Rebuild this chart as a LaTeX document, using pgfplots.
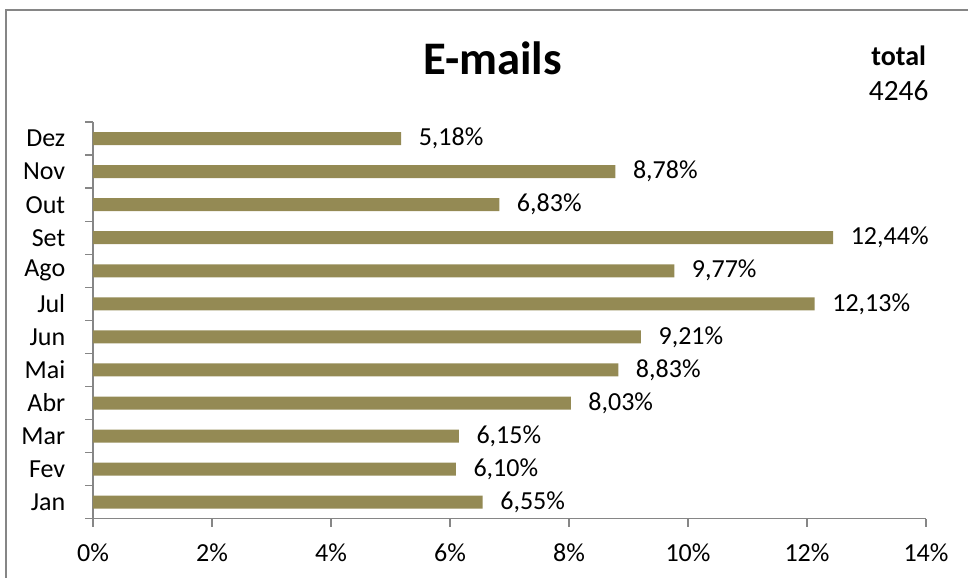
\documentclass[border=0pt]{standalone}
\usepackage{pgfplots}
\pgfplotsset{compat=1.18}
\usepackage{fontspec}
\setmainfont{Carlito}
\definecolor{barcol}{HTML}{948A54}
\definecolor{axgray}{HTML}{868686}
\begin{document}
\begin{tikzpicture}
\useasboundingbox (0,0) rectangle (726pt,433.5pt);
\draw[axgray, line width=1pt] (4.5pt,-20pt) rectangle (760pt,426pt);
\begin{axis}[
  at={(69.75pt,44.475pt)}, anchor=south west,
  scale only axis, width=624.75pt, height=297.5pt,
  xbar, bar width=9.75pt,
  xmin=0, xmax=14, ymin=-0.5, ymax=11.5,
  axis x line*=bottom, axis y line*=left,
  axis line style={axgray, line width=1pt, -},
  tick align=outside,
  major tick length=6pt,
  tick style={axgray, line width=1pt},
  xtick={0,2,...,14},
  xticklabels={0\%,2\%,4\%,6\%,8\%,10\%,12\%,14\%},
  ytick={-0.5,0.5,...,11.5},
  yticklabels={},
  extra y ticks={0,1,...,11},
  extra y tick labels={Jan,Fev,Mar,Abr,Mai,Jun,Jul,Ago,Set,Out,Nov,Dez},
  extra y tick style={major tick length=0pt},
  ticklabel style={font=\fontsize{19.5}{23}\selectfont, text=black},
  yticklabel style={anchor=east, xshift=-17.3pt},
  xticklabel style={anchor=north, yshift=-9pt},
  point meta=x,
  nodes near coords={\pgfmathprintnumber[fixed,fixed zerofill,precision=2,use comma,assume math mode=true]{\pgfplotspointmeta}\%},
  every node near coord/.append style={anchor=west, inner sep=0pt, xshift=13pt, font=\fontsize{19.5}{23}\selectfont, text=black},
]
\addplot[fill=barcol, draw=none] coordinates {
(6.55,0) (6.10,1) (6.15,2) (8.03,3) (8.83,4) (9.21,5)
(12.13,6) (9.77,7) (12.44,8) (6.83,9) (8.78,10) (5.18,11)
};
\end{axis}
\node[anchor=base, font=\fontsize{35}{40}\selectfont\bfseries] at (369.5pt,377.25pt) {E-mails};
\node[anchor=base, font=\fontsize{21}{24}\selectfont\bfseries, inner sep=0pt] at (674pt,384.3pt) {total};
\node[anchor=base, font=\fontsize{22}{24}\selectfont, inner sep=0pt] at (674pt,358.1pt) {4246};
\end{tikzpicture}
\end{document}
